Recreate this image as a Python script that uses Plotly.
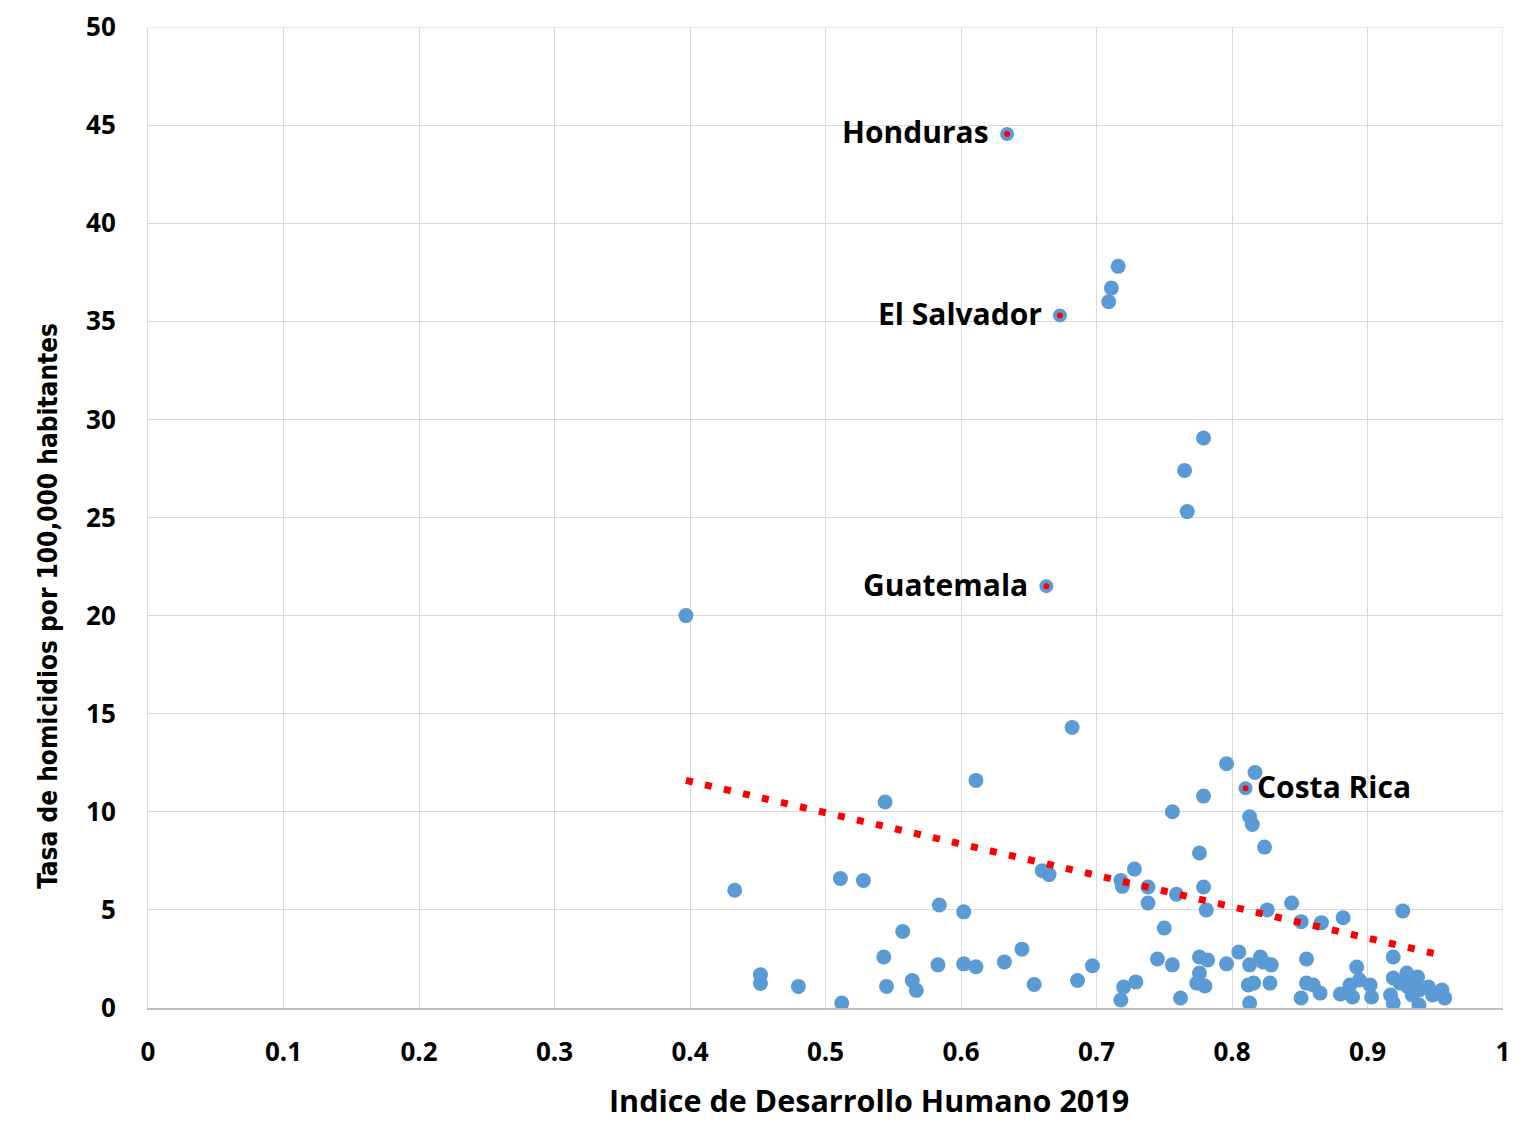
import plotly.graph_objects as go

# Scatter data: Indice de Desarrollo Humano 2019 (x) vs tasa de homicidios (y)
idh = [0.397, 0.433, 0.452, 0.452, 0.480, 0.511, 0.512, 0.528, 0.544, 0.543,
       0.545, 0.557, 0.564, 0.567, 0.584, 0.583, 0.602, 0.602, 0.611, 0.611,
       0.632, 0.645, 0.654, 0.660, 0.665, 0.682, 0.686, 0.697, 0.709, 0.711,
       0.716, 0.718, 0.719, 0.728, 0.738, 0.738, 0.759, 0.750, 0.745, 0.756,
       0.729, 0.720, 0.718, 0.762, 0.776, 0.776, 0.774, 0.776, 0.779, 0.781,
       0.824, 0.826, 0.844, 0.851, 0.866, 0.882, 0.926, 0.782, 0.796, 0.805,
       0.813, 0.821, 0.823, 0.829, 0.855, 0.919, 0.780, 0.812, 0.816, 0.828,
       0.813, 0.851, 0.855, 0.860, 0.865, 0.880, 0.892, 0.894, 0.887, 0.902,
       0.889, 0.903, 0.919, 0.917, 0.919, 0.929, 0.937, 0.930, 0.938, 0.945,
       0.955, 0.957, 0.938, 0.948, 0.933, 0.924, 0.779, 0.765, 0.767, 0.796,
       0.817, 0.779, 0.756, 0.813, 0.815]
homicidios = [20.0, 6.0, 1.7, 1.25, 1.1, 6.6, 0.25, 6.5, 10.5, 2.6,
              1.1, 3.9, 1.4, 0.9, 5.25, 2.2, 4.9, 2.25, 11.6, 2.1,
              2.35, 3.0, 1.2, 7.0, 6.8, 14.3, 1.4, 2.15, 36.0, 36.7,
              37.8, 6.5, 6.2, 7.08, 6.17, 5.35, 5.8, 4.08, 2.5, 2.2,
              1.33, 1.07, 0.41, 0.51, 2.6, 1.78, 1.27, 7.9, 6.17, 5.0,
              8.2, 5.0, 5.35, 4.4, 4.35, 4.6, 4.95, 2.45, 2.25, 2.85,
              2.2, 2.6, 2.35, 2.2, 2.5, 2.6, 1.12, 1.17, 1.27, 1.27,
              0.25, 0.51, 1.27, 1.17, 0.76, 0.71, 2.09, 1.43, 1.17, 1.17,
              0.56, 0.56, 1.53, 0.66, 0.25, 1.78, 1.58, 1.07, 0.92, 1.07,
              0.92, 0.51, 0.15, 0.66, 0.66, 1.27, 29.05, 27.4, 25.3, 12.45,
              12.0, 10.8, 10.0, 9.75, 9.35]

# Highlighted countries
paises = ["Honduras", "El Salvador", "Guatemala", "Costa Rica"]
paises_idh = [0.634, 0.673, 0.663, 0.810]
paises_hom = [44.55, 35.3, 21.5, 11.2]
paises_lado = ["left", "left", "left", "right"]

# Linear trend line endpoints
tend_x = [0.397, 0.951]
tend_y = [11.6, 2.75]

x_ticks = [0, 0.1, 0.2, 0.3, 0.4, 0.5, 0.6, 0.7, 0.8, 0.9, 1]
x_tick_text = ["0", "0.1", "0.2", "0.3", "0.4", "0.5", "0.6", "0.7", "0.8", "0.9", "1"]
y_ticks = [0, 5, 10, 15, 20, 25, 30, 35, 40, 45, 50]

x_title = "Indice de Desarrollo Humano 2019"
y_title = "Tasa de homicidios por 100,000 habitantes"

BLUE = "#5B9BD5"
RED = "#FF0000"
FONT = "Open Sans"

fig = go.Figure()

fig.add_trace(go.Scatter(
    x=idh, y=homicidios, mode="markers",
    marker=dict(size=15, color=BLUE, line=dict(width=0)),
    showlegend=False, hoverinfo="x+y"))

fig.add_trace(go.Scatter(
    x=tend_x, y=tend_y, mode="lines",
    line=dict(color=RED, width=7, dash="7px,12.5px"),
    showlegend=False, hoverinfo="skip"))

fig.add_trace(go.Scatter(
    x=paises_idh, y=paises_hom, mode="markers",
    marker=dict(size=10, color=RED, line=dict(width=4, color=BLUE)),
    showlegend=False, text=paises, hoverinfo="text+x+y"))

for name, px_, py_, side in zip(paises, paises_idh, paises_hom, paises_lado):
    fig.add_annotation(
        x=px_, y=py_, text=name, showarrow=False,
        xanchor="right" if side == "left" else "left",
        xshift=-16 if side == "left" else 9, yshift=2,
        font=dict(family=FONT, size=30, color="#000000", weight="bold"))

# Axis titles
fig.add_annotation(
    xref="paper", yref="paper", x=0.532, y=0, yshift=-92,
    xanchor="center", yanchor="middle", showarrow=False, text=x_title,
    font=dict(family=FONT, size=30.5, color="#000000", weight="bold"))
fig.add_annotation(
    xref="paper", yref="paper", x=0, y=0.41, xshift=-100,
    xanchor="center", yanchor="middle", showarrow=False, text=y_title,
    textangle=-90,
    font=dict(family="DejaVu Sans Condensed", size=26, color="#000000", weight="bold"))

fig.update_layout(
    width=1521, height=1117,
    margin=dict(l=140, r=26, t=19, b=117, autoexpand=False),
    paper_bgcolor="white", plot_bgcolor="white",
    font=dict(family=FONT, color="#000000"),
    xaxis=dict(
        range=[0, 1], tickvals=x_ticks, ticktext=x_tick_text,
        showgrid=True, gridcolor="#D9D9D9", gridwidth=1,
        zeroline=False, showline=True, linecolor="#BFBFBF", linewidth=1.5,
        ticks="", ticklabelstandoff=20, automargin=False,
        ticklabeloverflow="allow",
        tickfont=dict(family=FONT, size=26, weight="bold")),
    yaxis=dict(
        range=[0, 50], tickvals=y_ticks,
        showgrid=True, gridcolor="#D9D9D9", gridwidth=1,
        zeroline=False, showline=True, linecolor="#D9D9D9", linewidth=1,
        ticks="", ticklabelstandoff=26, automargin=False,
        ticklabeloverflow="allow",
        tickfont=dict(family=FONT, size=26, weight="bold")),
)

fig.add_shape(type="line", xref="x", yref="y", x0=1, x1=1, y0=0, y1=50,
              line=dict(color="#D9D9D9", width=1), layer="below")
fig.add_shape(type="line", xref="x", yref="y", x0=0, x1=1, y0=50, y1=50,
              line=dict(color="#D9D9D9", width=1), layer="below")

fig.write_html("out.html")
